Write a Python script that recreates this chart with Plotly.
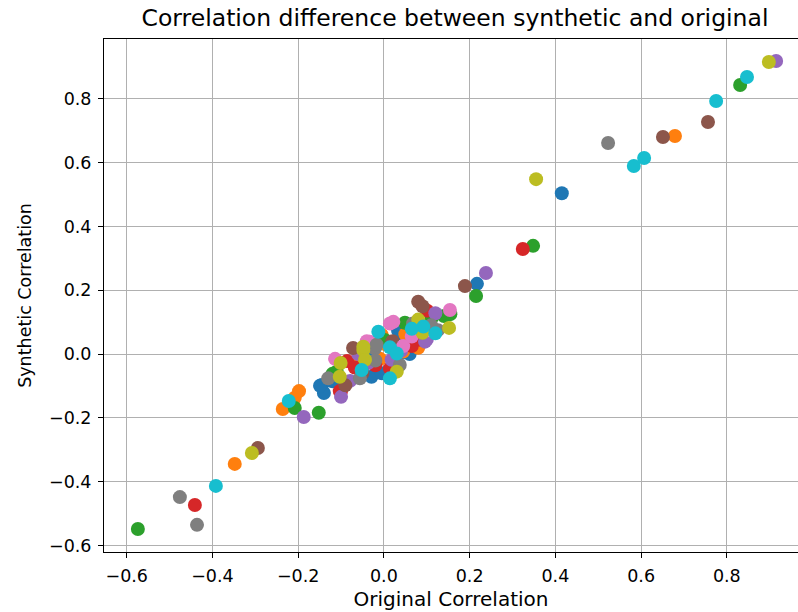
import plotly.graph_objects as go

# Pairwise correlations: original dataset (x) vs synthetic dataset (y),
# grouped by the marker colour used for each pair.
orig_blue = [0.415, 0.217, -0.145, -0.140, 0.033, -0.149, -0.029, -0.005, 0.060, -0.030, 0.040, -0.120, 0.020, 0.045]
synth_blue = [0.504, 0.220, -0.097, -0.122, 0.073, -0.099, -0.071, -0.060, 0.000, 0.010, 0.065, -0.085, 0.035, 0.005]

orig_orange = [0.679, -0.348, -0.236, -0.208, -0.198, -0.009, 0.045, -0.005, 0.060, -0.060, 0.080, 0.005, 0.050]
synth_orange = [0.683, -0.344, -0.172, -0.137, -0.116, -0.015, 0.008, 0.060, 0.040, -0.010, 0.020, 0.030, 0.062]

orig_green = [0.831, 0.348, -0.574, -0.152, -0.208, 0.215, 0.140, 0.111, 0.049, 0.002, -0.110, 0.155, 0.070, -0.120]
synth_green = [0.843, 0.339, -0.548, -0.184, -0.169, 0.182, 0.119, 0.112, 0.098, 0.044, -0.055, 0.125, 0.085, -0.062]

orig_red = [0.324, -0.441, -0.100, 0.101, 0.076, 0.065, -0.086, 0.014, -0.103, 0.085, -0.020, -0.068]
synth_red = [0.329, -0.473, -0.116, 0.136, 0.065, 0.025, -0.022, -0.045, -0.116, 0.045, -0.035, -0.042]

orig_purple = [0.915, 0.238, -0.187, -0.100, 0.100, -0.079, 0.018, -0.037, 0.096, 0.040, -0.060, 0.120]
synth_purple = [0.918, 0.254, -0.197, -0.134, 0.046, -0.084, -0.018, -0.028, 0.039, 0.010, 0.000, 0.128]

orig_brown = [0.651, 0.756, -0.294, 0.189, 0.080, -0.072, -0.050, 0.090, 0.020, -0.090]
synth_brown = [0.680, 0.727, -0.294, 0.213, 0.164, 0.019, -0.060, 0.150, 0.040, -0.098]

orig_pink = [0.154, 0.022, 0.065, -0.114, -0.033, 0.014, 0.045, 0.105, -0.040]
synth_pink = [0.138, 0.101, 0.055, -0.015, 0.039, 0.096, 0.025, 0.075, 0.040]

orig_gray = [0.523, -0.476, -0.436, 0.126, 0.068, -0.021, -0.130, -0.056, 0.037, -0.017, 0.110, -0.020]
synth_gray = [0.661, -0.448, -0.535, 0.075, 0.096, 0.018, -0.076, -0.076, -0.034, 0.029, 0.090, -0.020]

orig_olive = [0.355, 0.898, -0.308, 0.152, 0.090, -0.048, -0.044, -0.103, 0.030, -0.048, -0.101, 0.080]
synth_olive = [0.548, 0.915, -0.310, 0.082, 0.067, 0.013, -0.018, -0.071, -0.055, 0.023, -0.028, 0.108]

orig_cyan = [0.583, 0.607, 0.775, 0.847, -0.392, -0.222, 0.092, 0.065, -0.052, 0.014, 0.014, -0.013, 0.120, 0.030]
synth_cyan = [0.589, 0.614, 0.793, 0.868, -0.413, -0.147, 0.086, 0.079, -0.050, 0.021, -0.076, 0.070, 0.065, 0.002]

tick_vals = [-0.6, -0.4, -0.2, 0.0, 0.2, 0.4, 0.6, 0.8]

groups = [
    (orig_blue, synth_blue, "#1f77b4"),
    (orig_orange, synth_orange, "#ff7f0e"),
    (orig_green, synth_green, "#2ca02c"),
    (orig_red, synth_red, "#d62728"),
    (orig_purple, synth_purple, "#9467bd"),
    (orig_brown, synth_brown, "#8c564b"),
    (orig_pink, synth_pink, "#e377c2"),
    (orig_gray, synth_gray, "#7f7f7f"),
    (orig_olive, synth_olive, "#bcbd22"),
    (orig_cyan, synth_cyan, "#17becf"),
]

FONT = "DejaVu Sans"
TICK_SIZE = 17.5
XLABEL_SIZE = 20
YLABEL_SIZE = 17.5
TITLE_SIZE = 23.5

fig = go.Figure()
for xs, ys, col in groups:
    fig.add_trace(go.Scatter(
        x=xs, y=ys, mode="markers",
        marker=dict(color=col, size=14, line=dict(width=0)),
        showlegend=False, hoverinfo="x+y",
    ))

fig.update_layout(
    width=798, height=612,
    margin=dict(l=104, r=0, t=39, b=60),
    paper_bgcolor="white", plot_bgcolor="white",
    font=dict(family=FONT, size=TICK_SIZE, color="#000000"),
    title=dict(
        text="Correlation difference between synthetic and original",
        x=455 / 798, xanchor="center", xref="container",
        y=1 - 18 / 612, yanchor="middle", yref="container",
        font=dict(family=FONT, size=TITLE_SIZE, color="#000000"),
    ),
    xaxis=dict(
        range=[-0.653, 0.966],
        tickvals=tick_vals, tickformat=".1f",
        showgrid=True, gridcolor="#b0b0b0", gridwidth=1,
        zeroline=False,
        showline=True, linecolor="#000000", linewidth=1, mirror=True,
        ticks="outside", ticklen=5, tickcolor="#000000",
        ticklabelstandoff=3,
        tickfont=dict(family=FONT, size=TICK_SIZE),
        title=dict(text="Original Correlation", standoff=6,
                   font=dict(family=FONT, size=XLABEL_SIZE)),
        automargin=False,
    ),
    yaxis=dict(
        range=[-0.620, 0.987],
        tickvals=tick_vals, tickformat=".1f",
        showgrid=True, gridcolor="#b0b0b0", gridwidth=1,
        zeroline=False,
        showline=True, linecolor="#000000", linewidth=1, mirror=False,
        ticks="outside", ticklen=5, tickcolor="#000000",
        ticklabelstandoff=3,
        tickfont=dict(family=FONT, size=TICK_SIZE),
        title=dict(text="Synthetic Correlation", standoff=12,
                   font=dict(family=FONT, size=YLABEL_SIZE)),
        automargin=False,
    ),
)

fig.write_html("out.html")
